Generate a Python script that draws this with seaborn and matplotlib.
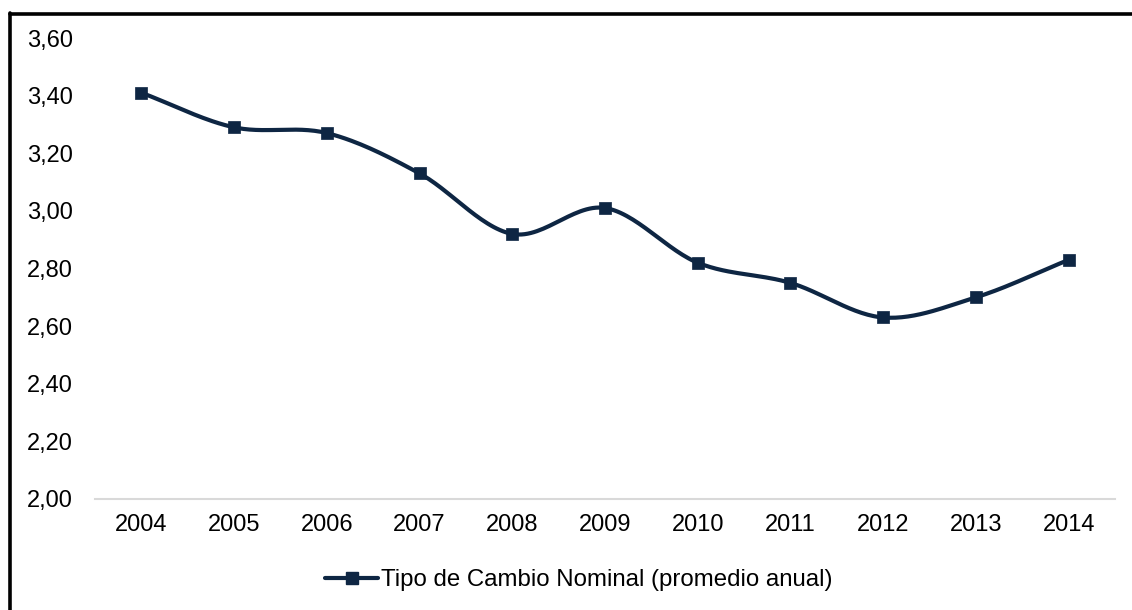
import numpy as np
import pandas as pd
import matplotlib
matplotlib.use("Agg")
import matplotlib.pyplot as plt
from matplotlib.lines import Line2D
import seaborn as sns

years = ["2004", "2005", "2006", "2007", "2008", "2009", "2010", "2011", "2012", "2013", "2014"]
values = [3.41, 3.29, 3.27, 3.13, 2.92, 3.01, 2.82, 2.75, 2.63, 2.70, 2.83]
yticks = [2.00, 2.20, 2.40, 2.60, 2.80, 3.00, 3.20, 3.40, 3.60]
label = "Tipo de Cambio Nominal (promedio anual)"
color = "#0E2643"
fs = 17

sns.set_theme(style="white")
plt.rcParams["font.family"] = ["Liberation Sans", "DejaVu Sans"]
plt.rcParams["text.color"] = "black"

fig = plt.figure(figsize=(11.32, 6.10), dpi=100)
ax = fig.add_axes([95/1132, 1-499/610, (1115-95)/1132, (499-38)/610])

x = np.arange(len(years), dtype=float)
y = np.array(values, dtype=float)

# Catmull-Rom style smoothing (Excel-like smoothed line) for rendering
def smooth(xp, yp, n=30):
    px = np.concatenate([[2*xp[0]-xp[1]], xp, [2*xp[-1]-xp[-2]]])
    py = np.concatenate([[2*yp[0]-yp[1]], yp, [2*yp[-1]-yp[-2]]])
    xs, ys = [], []
    for i in range(1, len(px)-2):
        t = np.linspace(0, 1, n, endpoint=(i == len(px)-3))
        for arr, out in ((px, xs), (py, ys)):
            p0, p1, p2, p3 = arr[i-1], arr[i], arr[i+1], arr[i+2]
            out.extend(0.5*((2*p1) + (-p0+p2)*t + (2*p0-5*p1+4*p2-p3)*t**2 + (-p0+3*p1-3*p2+p3)*t**3))
    return np.array(xs), np.array(ys)

sx, sy = smooth(x, y)
curve = pd.DataFrame({"x": sx, "y": sy})
sns.lineplot(data=curve, x="x", y="y", ax=ax, color=color, linewidth=3.0, sort=False, estimator=None)
pts = pd.DataFrame({"x": x, "y": y})
sns.scatterplot(data=pts, x="x", y="y", ax=ax, color=color, marker="s", s=80, edgecolor=color, linewidth=0.5, zorder=5)

ax.set_xlim(-0.5, len(years)-0.5)
ax.set_ylim(2.0, 3.6)
ax.set_xticks(x)
ax.set_xticklabels(years)
ax.set_yticks(yticks)
ax.set_yticklabels([f"{v:.2f}".replace(".", ",") for v in yticks])
ax.set_xlabel("")
ax.set_ylabel("")
ax.tick_params(axis="both", length=0, labelsize=fs, colors="#000000")
ax.tick_params(axis="x", pad=11)
ax.tick_params(axis="y", pad=16)
for s in ["top", "right", "left"]:
    ax.spines[s].set_visible(False)
ax.spines["bottom"].set_color("#D9D9D9")
ax.spines["bottom"].set_linewidth(1.5)
ax.grid(False)

handle = Line2D([], [], color=color, linewidth=3.0, marker="s", markersize=8.8)
leg = fig.legend([handle], [label], loc="center", bbox_to_anchor=(579/1132, 1-580/610),
                 frameon=False, fontsize=17.3, handlelength=2.2, handletextpad=0.12)
for t in leg.get_texts():
    t.set_color("black")

# figure border (left and top visible)
fig.add_artist(Line2D([9.5/1132, 9.5/1132], [0, 1-13/610], color="black", linewidth=2.6, transform=fig.transFigure))
fig.add_artist(Line2D([9.5/1132, 1], [1-13.5/610, 1-13.5/610], color="black", linewidth=2.6, transform=fig.transFigure))

fig.savefig("out.png", dpi=100, facecolor="white")
